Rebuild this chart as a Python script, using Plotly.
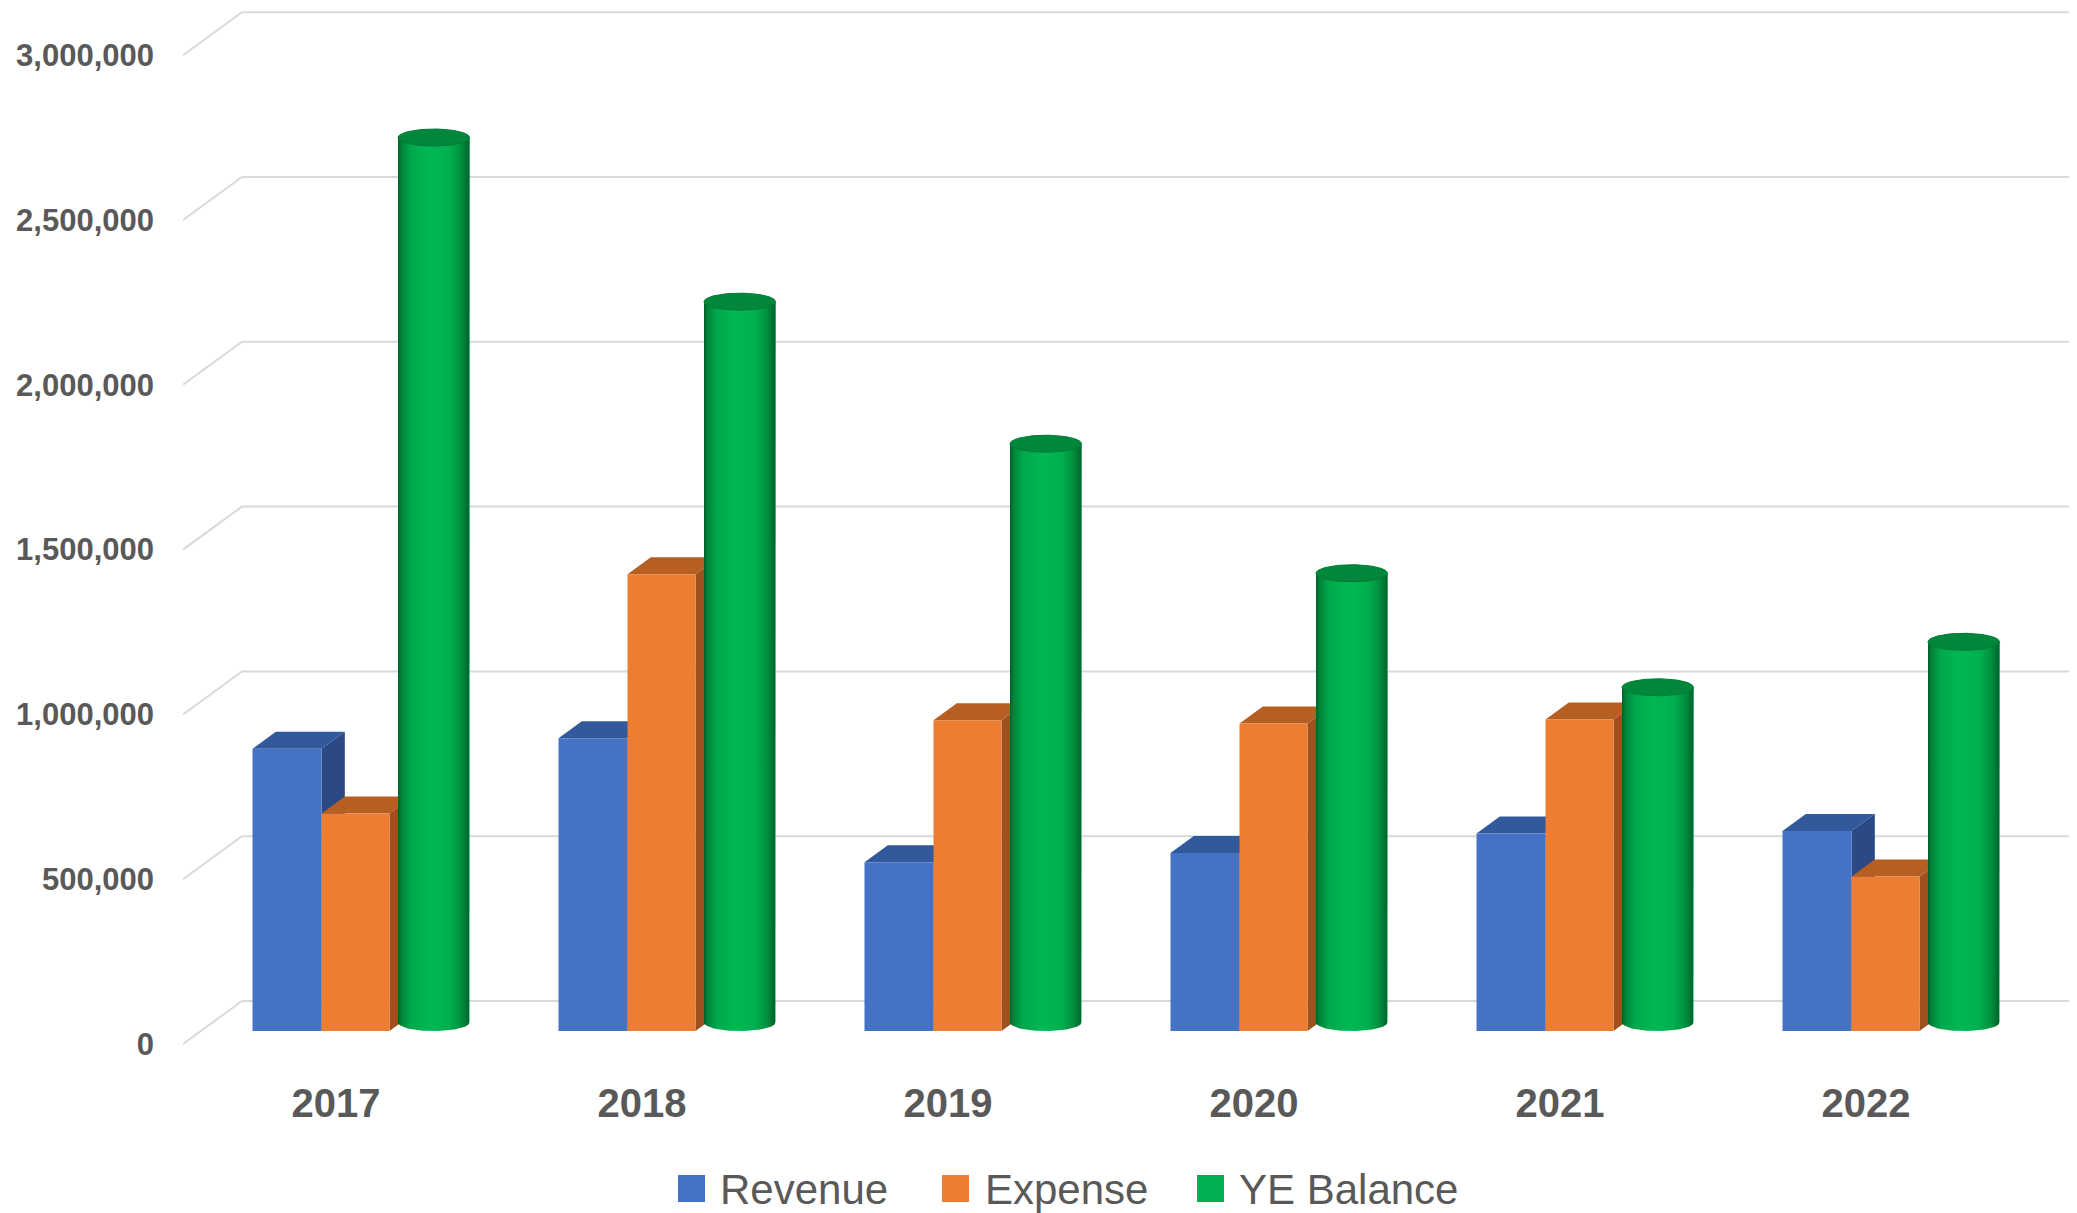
import numpy as np
import plotly.graph_objects as go

# ---------------- data ----------------
years = ["2017", "2018", "2019", "2020", "2021", "2022"]
revenue = [856000, 888000, 512000, 540000, 599000, 607000]
expense = [660000, 1386000, 943000, 933000, 945000, 469000]
ye_balance = [2685000, 2187000, 1756000, 1363000, 1017000, 1155000]
y_ticks = [0, 500000, 1000000, 1500000, 2000000, 2500000, 3000000]
series_names = ["Revenue", "Expense", "YE Balance"]

# ---------------- geometry / style ----------------
# page has an 8px body margin; work in page pixels and convert
OFF = 8
W, H = 2077 - OFF, 1213 - OFF
L, R, T, B = 183 - OFF, 0, 8 - OFF, 151 - OFF + OFF  # plot bottom at page 1062
B = H - (1062 - OFF)
PX_PER_CAT = 306.0
PX_PER_UNIT = 164.8 / 500000.0
Y0_PX = 1044.0 - OFF                # front-plane zero line (figure pixel row)

x_range = [-0.5, -0.5 + (W - L - R) / PX_PER_CAT]
y_lo = (Y0_PX - (H - B)) / PX_PER_UNIT
y_hi = (Y0_PX - T) / PX_PER_UNIT


def ux(px):
    return px / PX_PER_CAT


def uy(px):
    return px / PX_PER_UNIT


BACK_DX, BACK_DY = 59.0, 43.0      # back wall offset
BOX_PLANE = 13.0                   # box front faces depth (px up)
CYL_PLANE = 21.5                   # cylinder axis depth (px up)
BOX_DY = 17.0
BOX_DX = BOX_DY * BACK_DX / BACK_DY

BLUE_L, BLUE_W = -83.5, 69.0
ORNG_L, ORNG_W = -14.5, 68.0
CYL_L, CYL_W = 62.0, 71.5
CYL_B = 8.5

C_BLUE, C_BLUE_TOP, C_BLUE_SIDE = "#4472C4", "#32599C", "#2A4985"
C_ORNG, C_ORNG_TOP, C_ORNG_SIDE = "#ED7D31", "#B65F22", "#9D511E"
C_GREEN, C_GREEN_TOP = "#00B050", "#00873C"
GRID = "#D9D9D9"
TXT = "#595959"

fig = go.Figure()
xs = list(range(len(years)))

# front faces of boxes
fig.add_trace(go.Bar(name=series_names[0], x=xs, y=revenue, offset=ux(BLUE_L), width=ux(BLUE_W),
                     marker=dict(color=C_BLUE, line=dict(width=0)), xaxis="x", yaxis="y2",
                     showlegend=False))
fig.add_trace(go.Bar(name=series_names[1], x=xs, y=expense, offset=ux(ORNG_L), width=ux(ORNG_W),
                     marker=dict(color=C_ORNG, line=dict(width=0)), xaxis="x", yaxis="y2",
                     showlegend=False))
# cylinder body
fig.add_trace(go.Bar(name=series_names[2], x=xs, y=ye_balance, offset=ux(CYL_L), width=ux(CYL_W),
                     marker=dict(color=C_GREEN, line=dict(width=0)), xaxis="x", yaxis="y3",
                     showlegend=False))

green_scale = [[0.0, "#00602A"], [0.05, "#00833A"], [0.18, "#00A84C"], [0.45, "#00B853"],
               [0.72, "#00AF4F"], [0.86, "#009540"], [1.0, "#00652C"]]
a = CYL_W / 2.0
ccx = CYL_L + a
t_half = np.linspace(0, np.pi, 40)
t_full = np.linspace(0, 2 * np.pi, 80)
for i, v in zip(xs, ye_balance):
    px_x = [CYL_L, CYL_L, CYL_L + CYL_W, CYL_L + CYL_W] + list(ccx + a * np.cos(t_half))
    px_y = [0, None, None, 0] + list(-CYL_B * np.sin(t_half))
    xx = [i + ux(p) for p in px_x]
    yy = [v if p is None else uy(p) for p in px_y]
    fig.add_trace(go.Scatter(x=xx, y=yy, mode="lines", fill="toself", line=dict(width=0),
                             fillgradient=dict(type="horizontal", colorscale=green_scale),
                             xaxis="x", yaxis="y3", hoverinfo="skip", showlegend=False))
    ex = [i + ux(ccx + a * np.cos(t)) for t in t_full]
    ey = [v + uy(CYL_B * np.sin(t)) for t in t_full]
    fig.add_trace(go.Scatter(x=ex, y=ey, mode="lines", fill="toself",
                             line=dict(width=1, color="#007A35"), fillcolor=C_GREEN_TOP,
                             xaxis="x", yaxis="y3", hoverinfo="skip", showlegend=False))

shapes = []
# 3D gridlines (left wall diagonal + back wall)
for v in y_ticks:
    x0 = x_range[0]
    path = "M {:.5f},{:.2f} L {:.5f},{:.2f} L {:.5f},{:.2f}".format(
        x0, v, x0 + ux(BACK_DX), v + uy(BACK_DY), x_range[1], v + uy(BACK_DY))
    shapes.append(dict(type="path", path=path, xref="x", yref="y", layer="below",
                       line=dict(color=GRID, width=2)))

ddx, ddy = ux(BOX_DX), uy(BOX_DY)


def box_faces(i, v, left, width, ctop, cside):
    x0 = i + ux(left)
    x1 = i + ux(left + width)
    top = "M {a:.5f},{v:.1f} L {b:.5f},{v:.1f} L {c:.5f},{w:.1f} L {d:.5f},{w:.1f} Z".format(
        a=x0, b=x1, c=x1 + ddx, d=x0 + ddx, v=v, w=v + ddy)
    side = "M {a:.5f},0 L {a:.5f},{v:.1f} L {b:.5f},{w:.1f} L {b:.5f},{h:.1f} Z".format(
        a=x1, b=x1 + ddx, v=v, w=v + ddy, h=ddy)
    return [dict(type="path", path=top, xref="x", yref="y2", layer="below",
                 fillcolor=ctop, line=dict(width=0)),
            dict(type="path", path=side, xref="x", yref="y2", layer="below",
                 fillcolor=cside, line=dict(width=0))]


for i in xs:
    shapes += box_faces(i, revenue[i], BLUE_L, BLUE_W, C_BLUE_TOP, C_BLUE_SIDE)
    shapes += box_faces(i, expense[i], ORNG_L, ORNG_W, C_ORNG_TOP, C_ORNG_SIDE)

# legend (manual so symbol size matches); page pixel positions
plot_w = W - L - R
plot_h = H - T - B


def pxp(px):
    return (px - OFF - L) / plot_w


def pyp(py):
    return (H - B - (py - OFF)) / plot_h


leg = [(678, 718, C_BLUE), (942, 983, C_ORNG), (1197, 1237, C_GREEN)]
annotations = []
for (sx, tx, col), name in zip(leg, series_names):
    shapes.append(dict(type="rect", xref="paper", yref="paper",
                       x0=pxp(sx), x1=pxp(sx + 27), y0=pyp(1202), y1=pyp(1175),
                       fillcolor=col, line=dict(width=0)))
    annotations.append(dict(text=name, xref="paper", yref="paper", x=pxp(tx), y=pyp(1189),
                            xanchor="left", yanchor="middle", showarrow=False,
                            font=dict(family="Liberation Sans, Arial, sans-serif", size=42, color=TXT)))

fig.update_layout(
    width=W, height=H,
    margin=dict(l=L, r=R, t=T, b=B, pad=0),
    paper_bgcolor="white", plot_bgcolor="white",
    barmode="overlay", showlegend=False,
    shapes=shapes, annotations=annotations,
    xaxis=dict(type="linear", range=x_range, tickvals=xs, ticktext=years,
               showgrid=False, zeroline=False, showline=False, ticks="",
               ticklabelstandoff=14,
               tickfont=dict(family="Liberation Sans, Arial, sans-serif", size=40, color=TXT,
                             weight="bold")),
    yaxis=dict(range=[y_lo, y_hi], tickvals=y_ticks, tickformat=",d",
               showgrid=False, zeroline=False, showline=False, ticks="",
               ticklabelstandoff=28,
               tickfont=dict(family="Liberation Sans, Arial, sans-serif", size=31, color=TXT,
                             weight="bold")),
    yaxis2=dict(range=[y_lo - uy(BOX_PLANE), y_hi - uy(BOX_PLANE)], overlaying="y",
                visible=False),
    yaxis3=dict(range=[y_lo - uy(CYL_PLANE), y_hi - uy(CYL_PLANE)], overlaying="y",
                visible=False),
)

fig.write_html("out.html")
